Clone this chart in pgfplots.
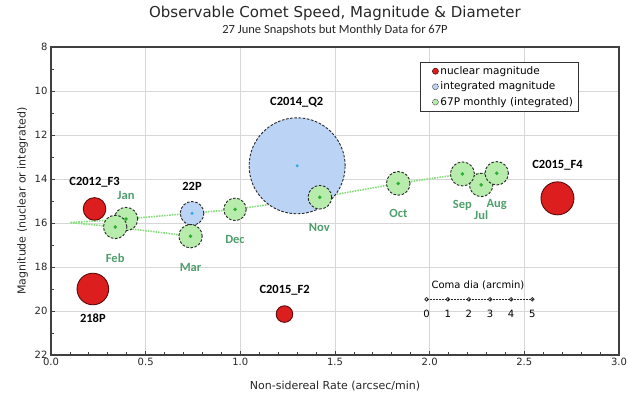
\documentclass[border=0pt]{standalone}
\usepackage{fontspec}
\setmainfont{DejaVu Sans}
\newfontfamily\carlito{Carlito}
\usepackage{pgfplots}
\usepackage{pgfplotstable}
\pgfplotsset{compat=1.18}

\definecolor{redF}{RGB}{221,30,30}
\definecolor{redD}{RGB}{90,10,10}
\definecolor{blueF}{RGB}{187,211,244}
\definecolor{blueC}{RGB}{40,170,225}
\definecolor{greenF}{RGB}{183,236,172}
\definecolor{greenC}{RGB}{45,175,50}
\definecolor{greenL}{RGB}{135,222,125}
\definecolor{greenT}{RGB}{78,158,108}
\definecolor{gridgray}{RGB}{215,215,215}

% nuclear magnitude (red), radius in pt
\pgfplotstableread{
x     y     r
0.230 15.36 11.3
0.221 19.00 15.8
1.233 20.14 8.3
2.675 14.88 16.5
}\nuclear

% integrated magnitude (blue)
\pgfplotstableread{
x     y     r
0.745 15.56 11.8
1.300 13.40 48.0
}\integrated

% 67P monthly (integrated), Jul..Mar
\pgfplotstableread{
x     y     r
2.272 14.27 11.7
2.354 13.74 11.7
2.173 13.77 12.0
1.834 14.20 11.8
1.420 14.83 11.8
0.972 15.38 11.2
0.396 15.82 11.7
0.339 16.18 11.7
0.737 16.60 11.7
}\comet

\newcommand{\lbl}{\carlito\bfseries\fontsize{12.5}{14}\selectfont}
\newcommand{\sml}{\fontsize{10}{12}\selectfont}

\pgfplotsset{
    bubble/.style 2 args={scatter, only marks, mark=*, forget plot,
        scatter/use mapped color={draw=#1, fill=#2},
        visualization depends on={\thisrow{r} \as \rad},
        scatter/@pre marker code/.append style={/tikz/mark size=\rad}},
}

\begin{document}
\begin{tikzpicture}
\begin{axis}[
    scale only axis,
    width=568pt, height=308pt,
    xmin=0, xmax=3, ymin=8, ymax=22,
    y dir=reverse,
    xtick={0,0.5,...,3}, ytick={8,10,...,22},
    minor x tick num=4, minor y tick num=1,
    xticklabel style={/pgf/number format/.cd, fixed, fixed zerofill, precision=1},
    /pgf/number format/assume math mode=true,
    tick label style={font=\fontsize{10}{12}\selectfont, text=black!85},
    grid=major,
    major grid style={gridgray, line width=0.8pt},
    axis line style={black!75, line width=1.3pt},
    tick style={black!75, line width=0.8pt},
    major tick length=4pt, minor tick length=3pt,
    tick pos=left, tick align=inside,
    xlabel={Non-sidereal Rate (arcsec/min)},
    ylabel={Magnitude (nuclear or integrated)},
    xlabel style={yshift=-8pt},
    label style={font=\fontsize{11}{13}\selectfont, text=black!85},
    legend style={at={(0.649,0.951)}, anchor=north west, draw=black!80,
        line width=0.8pt, font=\fontsize{10.5}{12.5}\selectfont,
        row sep=2pt, inner xsep=3pt, inner ysep=2pt},
    legend cell align=left,
    legend image code/.code={\path (0pt,0pt) (14pt,0pt); \draw[#1] plot coordinates {(12pt,0pt)};},
]
\addlegendimage{only marks, mark=*, mark size=3pt, mark options={fill=redF, draw=redD, line width=0.6pt}}
\addlegendentry{nuclear magnitude}
\addlegendimage{only marks, mark=*, mark size=3pt, mark options={fill=blueF, draw=black!80, line width=0.6pt, dash pattern=on 1pt off 0.8pt}}
\addlegendentry{integrated magnitude}
\addlegendimage{only marks, mark=*, mark size=3pt, mark options={fill=greenF, draw=black!80, line width=0.6pt, dash pattern=on 1pt off 0.8pt}}
\addlegendentry{67P monthly (integrated)}

% integrated comets
\addplot[bubble={black!85}{blueF},
    mark options={dash pattern=on 2.6pt off 1.6pt, line width=0.9pt}]
    table[x=x, y=y] {\integrated};

% nuclear comets
\addplot[bubble={redD}{redF}, mark options={solid, line width=0.9pt}]
    table[x=x, y=y] {\nuclear};

% 67P monthly circles
\addplot[bubble={black!85}{greenF},
    mark options={dash pattern=on 2.6pt off 1.6pt, line width=0.9pt}]
    table[x=x, y=y] {\comet};

% 67P track
\addplot[greenL, line width=1.6pt, densely dotted, forget plot] coordinates {
    (2.272,14.27) (2.354,13.74) (2.173,13.77) (1.834,14.20) (1.420,14.83)
    (0.972,15.38) (0.396,15.82) (0.100,15.98) (0.339,16.18) (0.737,16.60)
};

% centre dots
\addplot[only marks, mark=*, mark size=1.6pt, greenC, forget plot] table[x=x, y=y] {\comet};
\addplot[only marks, mark=*, mark size=1.3pt, blueC, forget plot] table[x=x, y=y] {\integrated};

% coma diameter scale
\addplot[black!85, line width=0.8pt, dash pattern=on 2pt off 1pt,
    mark=o, mark size=1.8pt, mark options={solid}, forget plot] coordinates {
    (1.984,19.47) (2.096,19.47) (2.207,19.47) (2.319,19.47) (2.430,19.47) (2.542,19.47)
};
\node[font=\sml] at (axis cs:2.255,18.82) {Coma dia (arcmin)};
\node[font=\sml] at (axis cs:1.984,20.12) {0};
\node[font=\sml] at (axis cs:2.096,20.12) {1};
\node[font=\sml] at (axis cs:2.207,20.12) {2};
\node[font=\sml] at (axis cs:2.319,20.12) {3};
\node[font=\sml] at (axis cs:2.430,20.12) {4};
\node[font=\sml] at (axis cs:2.542,20.12) {5};

% comet names
\node[font=\lbl] at (axis cs:0.230,14.15) {C2012\_F3};
\node[font=\lbl] at (axis cs:0.221,20.33) {218P};
\node[font=\lbl] at (axis cs:1.234,19.08) {C2015\_F2};
\node[font=\lbl] at (axis cs:1.298,10.49) {C2014\_Q2};
\node[font=\lbl] at (axis cs:0.745,14.35) {22P};
\node[font=\lbl] at (axis cs:2.675,13.36) {C2015\_F4};

% months
\node[font=\lbl, text=greenT] at (axis cs:0.396,14.73) {Jan};
\node[font=\lbl, text=greenT] at (axis cs:0.339,17.60) {Feb};
\node[font=\lbl, text=greenT] at (axis cs:0.737,18.01) {Mar};
\node[font=\lbl, text=greenT] at (axis cs:0.972,16.77) {Dec};
\node[font=\lbl, text=greenT] at (axis cs:1.417,16.21) {Nov};
\node[font=\lbl, text=greenT] at (axis cs:1.835,15.57) {Oct};
\node[font=\lbl, text=greenT] at (axis cs:2.173,15.18) {Sep};
\node[font=\lbl, text=greenT] at (axis cs:2.272,15.64) {Jul};
\node[font=\lbl, text=greenT] at (axis cs:2.354,15.14) {Aug};
\end{axis}

\node[font=\fontsize{15}{18}\selectfont, text=black!85] at ([yshift=34pt]current axis.north) {Observable Comet Speed, Magnitude \& Diameter};
\node[font=\carlito\fontsize{12.5}{15}\selectfont, text=black!85] at ([yshift=17pt]current axis.north) {27 June Snapshots but Monthly Data for 67P};

\pgfresetboundingbox
\path ([shift={(-51pt,-51pt)}]current axis.south west) rectangle ([shift={(8pt,47pt)}]current axis.north east);
\end{tikzpicture}
\end{document}
